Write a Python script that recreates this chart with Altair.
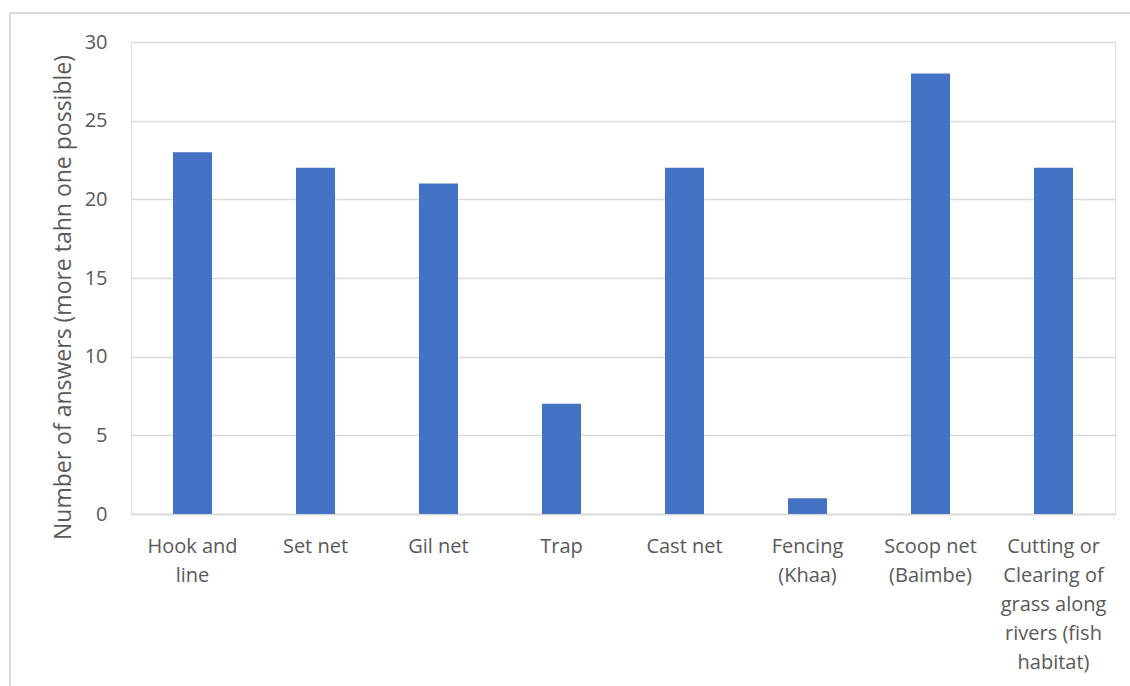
import altair as alt
import pandas as pd

# Fishing methods reported and number of answers for each
methods = [
    "Hook and\nline",
    "Set net",
    "Gil net",
    "Trap",
    "Cast net",
    "Fencing\n(Khaa)",
    "Scoop net\n(Baimbe)",
    "Cutting or\nClearing of\ngrass along\nrivers (fish\nhabitat)",
]
answers = [23, 22, 21, 7, 22, 1, 28, 22]
y_ticks = [0, 5, 10, 15, 20, 25, 30]

df = pd.DataFrame({"method": methods, "answers": answers})

FONT = "Open Sans"
TEXT = "#595959"
GRID = "#D9D9D9"
BAR = "#4472C4"

PLOT_W, PLOT_H = 984, 472
LEFT, TOP = 131, 42

bars = alt.Chart(df).mark_bar(color=BAR, size=39).encode(
    x=alt.X(
        "method:N",
        sort=methods,
        scale=alt.Scale(paddingInner=0, paddingOuter=0),
        axis=alt.Axis(
            title=None,
            labelAngle=0,
            labelExpr="split(datum.label, '\\n')",
            labelFont=FONT,
            labelFontSize=20,
            labelColor=TEXT,
            labelLineHeight=29,
            labelBaseline="top",
            labelPadding=22,
            ticks=False,
            domain=True,
            domainColor=GRID,
            domainWidth=1.5,
            grid=False,
        ),
    ),
    y=alt.Y(
        "answers:Q",
        scale=alt.Scale(domain=[0, 30], nice=False),
        axis=alt.Axis(
            title="Number of answers (more tahn one possible)",
            titleFont=FONT,
            titleFontSize=23,
            titleFontWeight="normal",
            titleColor=TEXT,
            titleAngle=270,
            titleAlign="center",
            titleBaseline="middle",
            titleX=-68,
            titleY=255,
            values=y_ticks,
            labelFont=FONT,
            labelFontSize=20,
            labelColor=TEXT,
            labelPadding=24,
            ticks=False,
            domain=False,
            grid=True,
            gridColor=GRID,
            gridWidth=1.5,
        ),
    ),
)

# Light frame around the chart area (top and left edges)
frame_top = alt.Chart(df).mark_rule(color=GRID, strokeWidth=1.5).encode(
    x=alt.value(-(LEFT - 10)), x2=alt.value(PLOT_W + 40), y=alt.value(-(TOP - 13))
)
frame_left = alt.Chart(df).mark_rule(color=GRID, strokeWidth=1.5).encode(
    x=alt.value(-(LEFT - 10)), y=alt.value(-(TOP - 13)), y2=alt.value(700)
)

chart = (
    alt.layer(frame_top, frame_left, bars)
    .properties(
        width=PLOT_W,
        height=PLOT_H,
        autosize=alt.AutoSizeParams(type="none"),
        padding={"left": LEFT, "top": TOP, "right": 1130 - LEFT - PLOT_W, "bottom": 686 - TOP - PLOT_H},
    )
    .configure_view(stroke=None)
    .configure(background="white")
)

chart.save("out.html", embed_options={"renderer": "svg", "actions": False})
